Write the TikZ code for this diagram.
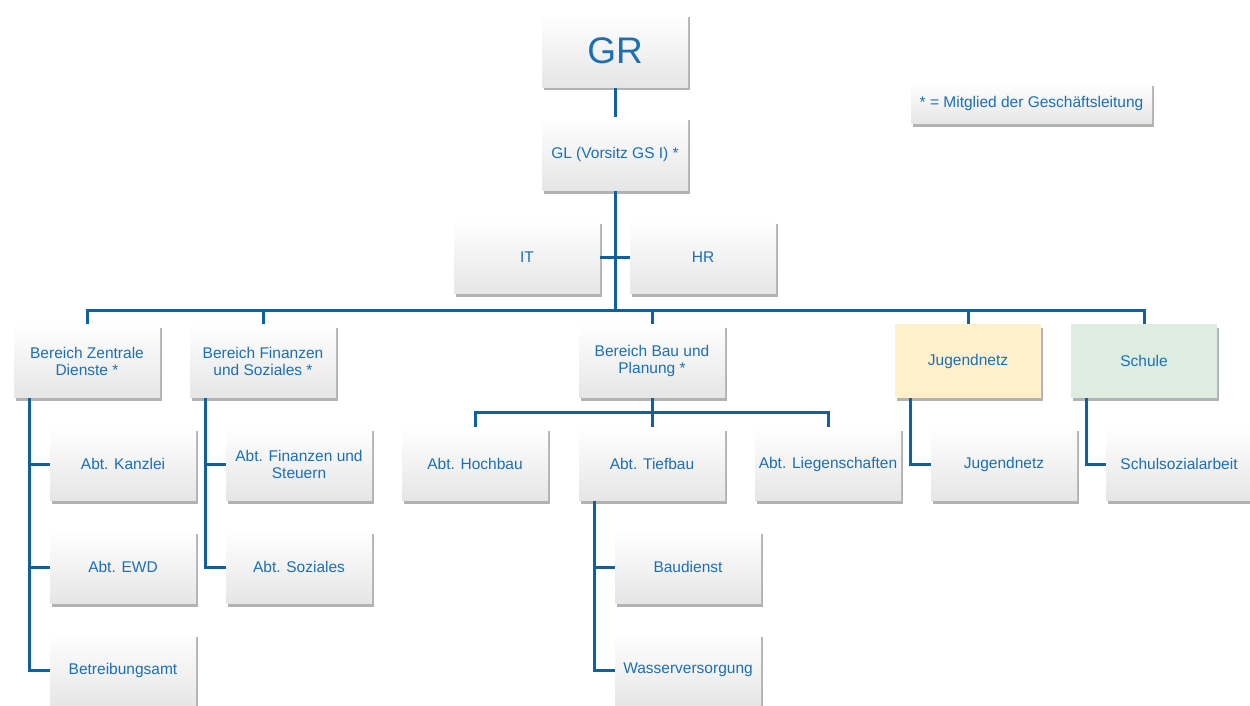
\documentclass[tikz,border=0pt]{standalone}
\usepackage{fontspec}
\setmainfont{Liberation Sans}
\usetikzlibrary{shadows}

\definecolor{orgtext}{HTML}{1B6FB5}
\definecolor{orgline}{HTML}{0E60A0}
\definecolor{jnfill}{HTML}{FFF0CC}
\definecolor{schfill}{HTML}{DDEEE1}

\begin{document}
\begin{tikzpicture}[x=1pt, y=-1pt,
    unit/.style={minimum width=146pt, minimum height=73pt, inner sep=2pt, align=center,
      text=orgtext, font=\fontsize{15.5}{17}\selectfont,
      top color=white, middle color=white, bottom color=black!10,
      drop shadow={shadow xshift=2pt, shadow yshift=-3pt, fill=black, opacity=.3}},
    flat/.style={unit, fill=#1, top color=#1, middle color=#1, bottom color=#1},
    link/.style={draw=orgline, line width=3pt}]
  \useasboundingbox (0,0) rectangle (1250,706);
  \clip (0,0) rectangle (1250,706);

  % Leitung
  \node[unit, font=\fontsize{37}{40}\selectfont] (gr) at (615,51) {GR};
  \node[unit] (gl) at (615,154) {GL (Vorsitz GS I) *};
  \node[unit] (it) at (527,257) {IT};
  \node[unit] (hr) at (703,257) {HR};
  \node[unit, minimum width=241pt, minimum height=41pt] (legende) at (1031.5,103.5) {* = Mitglied der Geschäftsleitung};

  % Bereiche
  \node[unit] (bzd) at (87,361) {Bereich Zentrale\\Dienste *};
  \node[unit] (bfs) at (263,361) {Bereich Finanzen\\und Soziales *};
  \node[unit] (bbp) at (652,361) {Bereich Bau und\\Planung *};
  \node[flat=jnfill] (jug) at (968,361) {Jugendnetz};
  \node[flat=schfill] (sch) at (1144,361) {Schule};

  % Abteilungen
  \node[unit] (kanzlei) at (123,464) {Abt. Kanzlei};
  \node[unit] (ewd) at (123,567) {Abt. EWD};
  \node[unit] (betreibung) at (123,670) {Betreibungsamt};
  \node[unit] (steuern) at (299,464) {Abt. Finanzen und\\Steuern};
  \node[unit] (soziales) at (299,567) {Abt. Soziales};
  \node[unit] (hochbau) at (475,464) {Abt. Hochbau};
  \node[unit] (tiefbau) at (652,464) {Abt. Tiefbau};
  \node[unit] (liegen) at (828,464) {Abt. Liegenschaften};
  \node[unit] (baudienst) at (688,567) {Baudienst};
  \node[unit] (wasser) at (688,670) {Wasserversorgung};
  \node[unit] (jnetz) at (1004,464) {Jugendnetz};
  \node[unit] (ssa) at (1179,464) {Schulsozialarbeit};

  % Verbindungen
  \coordinate (bus) at (615,310);
  \coordinate (baubar) at (652,412);
  \draw[link] (gr) -- (gl);
  \draw[link] (gl) -- (bus);
  \draw[link] (it) -- (hr);
  \draw[link] (bzd.north) |- (bus) -| (sch.north);
  \foreach \b in {bfs,bbp,jug}
    \draw[link] (\b.north |- bus) -- (\b.north);
  \foreach \c in {kanzlei,ewd,betreibung}
    \draw[link] ([xshift=16pt]bzd.south west) |- (\c.west);
  \foreach \c in {steuern,soziales}
    \draw[link] ([xshift=16pt]bfs.south west) |- (\c.west);
  \draw[link] (bbp) -- (baubar);
  \draw[link] (hochbau.north) |- (baubar) -| (liegen.north);
  \draw[link] (baubar) -- (tiefbau);
  \foreach \c in {baudienst,wasser}
    \draw[link] ([xshift=16pt]tiefbau.south west) |- (\c.west);
  \draw[link] ([xshift=16pt]jug.south west) |- (jnetz.west);
  \draw[link] ([xshift=16pt]sch.south west) |- (ssa.west);
\end{tikzpicture}
\end{document}
